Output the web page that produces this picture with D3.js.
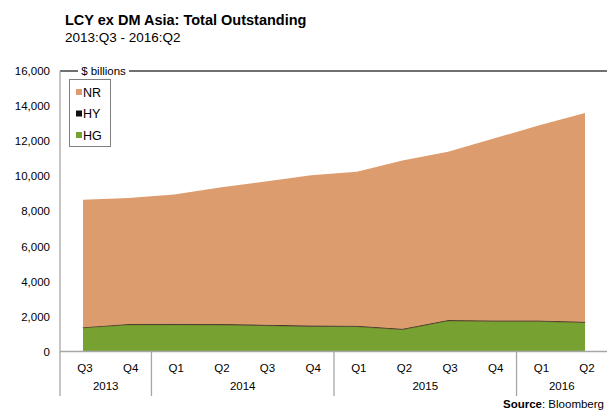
<!DOCTYPE html>
<html>
<head>
<meta charset="utf-8">
<script src="https://cdn.jsdelivr.net/npm/d3@7"></script>
<style>
  body { margin: 0; background: #fff; }
  svg text { font-family: "Liberation Sans", Arial, sans-serif; fill: #000; }
</style>
</head>
<body>
<div id="chart"></div>
<script>
(function () {

  // quarters and their years
  var quarters = ['Q3', 'Q4', 'Q1', 'Q2', 'Q3', 'Q4', 'Q1', 'Q2', 'Q3', 'Q4', 'Q1', 'Q2']
  var years = ['2013', '2013', '2014', '2014', '2014', '2014', '2015', '2015', '2015', '2015', '2016', '2016']

  // $ billions
  var hg = [1350, 1530, 1530, 1520, 1480, 1430, 1420, 1250, 1750, 1720, 1720, 1650]
  var hy = [40, 45, 50, 50, 50, 55, 55, 50, 45, 45, 45, 45]
  var nr = [7260, 7175, 7370, 7780, 8170, 8565, 8775, 9600, 9605, 10385, 11135, 11905]

  var yTicks = [0, 2000, 4000, 6000, 8000, 10000, 12000, 14000, 16000]

  var seriesNames = ['HG', 'HY', 'NR']
  var colors = { NR: '#DC9C6D', HY: '#111111', HG: '#77A232' }

  var width = 607, height = 415
  var left = 60, top = 71, bottom = 351.5, right = 607

  var rows = quarters.map(function (q, i) {
    return { i: i, HG: hg[i], HY: hy[i], NR: nr[i] }
  })

  var svg = d3.select('#chart').append('svg')
    .attr('width', width)
    .attr('height', height)

  var xPositionScale = d3.scalePoint()
    .domain(d3.range(quarters.length))
    .range([83, 585])

  var yPositionScale = d3.scaleLinear()
    .domain([0, 16000])
    .range([bottom, top])

  var stack = d3.stack().keys(seriesNames)
  var layers = stack(rows)

  var area = d3.area()
    .x(function (d) { return xPositionScale(d.data.i) })
    .y0(function (d) { return yPositionScale(d[0]) })
    .y1(function (d) { return yPositionScale(d[1]) })

  svg.selectAll('.layer')
    .data(layers)
    .enter().append('path')
    .attr('class', 'layer')
    .attr('d', area)
    .attr('fill', function (d) { return colors[d.key] })
    .attr('stroke', function (d) { return d.key === 'HY' ? '#5a4020' : 'none' })
    .attr('stroke-width', 0.6)

  // titles
  svg.append('text')
    .attr('x', 65).attr('y', 25)
    .style('font-size', '14.5px')
    .style('font-weight', 'bold')
    .text('LCY ex DM Asia: Total Outstanding')

  svg.append('text')
    .attr('x', 65).attr('y', 42)
    .style('font-size', '13.5px')
    .text('2013:Q3 - 2016:Q2')

  // y axis labels
  var yAxis = d3.axisLeft(yPositionScale)
    .tickValues(yTicks)
    .tickSize(0)
    .tickPadding(10)
    .tickFormat(d3.format(','))
  var yg = svg.append('g')
    .attr('transform', 'translate(' + left + ',0)')
    .call(yAxis)
  yg.select('.domain').remove()
  yg.selectAll('text')
    .style('font-size', '11.5px')
    .style('font-family', '"Liberation Sans", Arial, sans-serif')

  // frame lines
  svg.append('line')
    .attr('x1', left).attr('x2', right)
    .attr('y1', top).attr('y2', top)
    .attr('stroke', '#404040').attr('stroke-width', 1.3)

  svg.append('line')
    .attr('x1', left).attr('x2', left)
    .attr('y1', top).attr('y2', 396)
    .attr('stroke', '#a6a6a6').attr('stroke-width', 1.3)

  svg.append('line')
    .attr('x1', left).attr('x2', right)
    .attr('y1', bottom).attr('y2', bottom)
    .attr('stroke', '#a6a6a6').attr('stroke-width', 1.3)

  // "$ billions" label over the top line
  svg.append('rect')
    .attr('x', 78).attr('y', 64)
    .attr('width', 51).attr('height', 14)
    .attr('fill', '#fff')
  svg.append('text')
    .attr('x', 103.5).attr('y', 75)
    .attr('text-anchor', 'middle')
    .style('font-size', '11.5px')
    .text('$ billions')

  // category axis: quarters
  svg.selectAll('.qlabel')
    .data(quarters)
    .enter().append('text')
    .attr('class', 'qlabel')
    .attr('x', function (d, i) { return xPositionScale(i) + 2 })
    .attr('y', 372)
    .attr('text-anchor', 'middle')
    .style('font-size', '11.5px')
    .text(function (d) { return d })

  // year groups
  var yearGroups = d3.groups(rows, function (d) { return years[d.i] })
  var step = xPositionScale.step()
  var bounds = yearGroups.map(function (g) {
    var first = g[1][0].i, last = g[1][g[1].length - 1].i
    var x0 = first === 0 ? left : xPositionScale(first) - step / 2
    var x1 = last === quarters.length - 1 ? right : xPositionScale(last) + step / 2
    return { year: g[0], x0: x0, x1: x1 }
  })

  svg.selectAll('.sep')
    .data(bounds.slice(1))
    .enter().append('line')
    .attr('class', 'sep')
    .attr('x1', function (d) { return d.x0 }).attr('x2', function (d) { return d.x0 })
    .attr('y1', bottom).attr('y2', 396)
    .attr('stroke', '#a6a6a6').attr('stroke-width', 1.3)

  svg.selectAll('.ylabel')
    .data(bounds)
    .enter().append('text')
    .attr('class', 'ylabel')
    .attr('x', function (d) { return (d.x0 + d.x1) / 2 })
    .attr('y', 390)
    .attr('text-anchor', 'middle')
    .style('font-size', '11.5px')
    .text(function (d) { return d.year })

  // legend
  var legendNames = ['NR', 'HY', 'HG']
  svg.append('rect')
    .attr('x', 69.5).attr('y', 79.5)
    .attr('width', 41).attr('height', 67)
    .attr('fill', '#fff')
    .attr('stroke', '#7f7f7f')

  var legend = svg.selectAll('.legend')
    .data(legendNames)
    .enter().append('g')
    .attr('class', 'legend')
    .attr('transform', function (d, i) { return 'translate(76,' + (92 + i * 21.5) + ')' })

  legend.append('rect')
    .attr('x', 0).attr('y', -3)
    .attr('width', 6).attr('height', 6)
    .attr('fill', function (d) { return colors[d] })

  legend.append('text')
    .attr('x', 7).attr('y', 4.5)
    .style('font-size', '12.5px')
    .text(function (d) { return d })

  // source
  var src = svg.append('text')
    .attr('x', 604).attr('y', 408)
    .attr('text-anchor', 'end')
    .style('font-size', '11.5px')
  src.append('tspan').style('font-weight', 'bold').text('Source')
  src.append('tspan').text(': Bloomberg')

})()
</script>
</body>
</html>
